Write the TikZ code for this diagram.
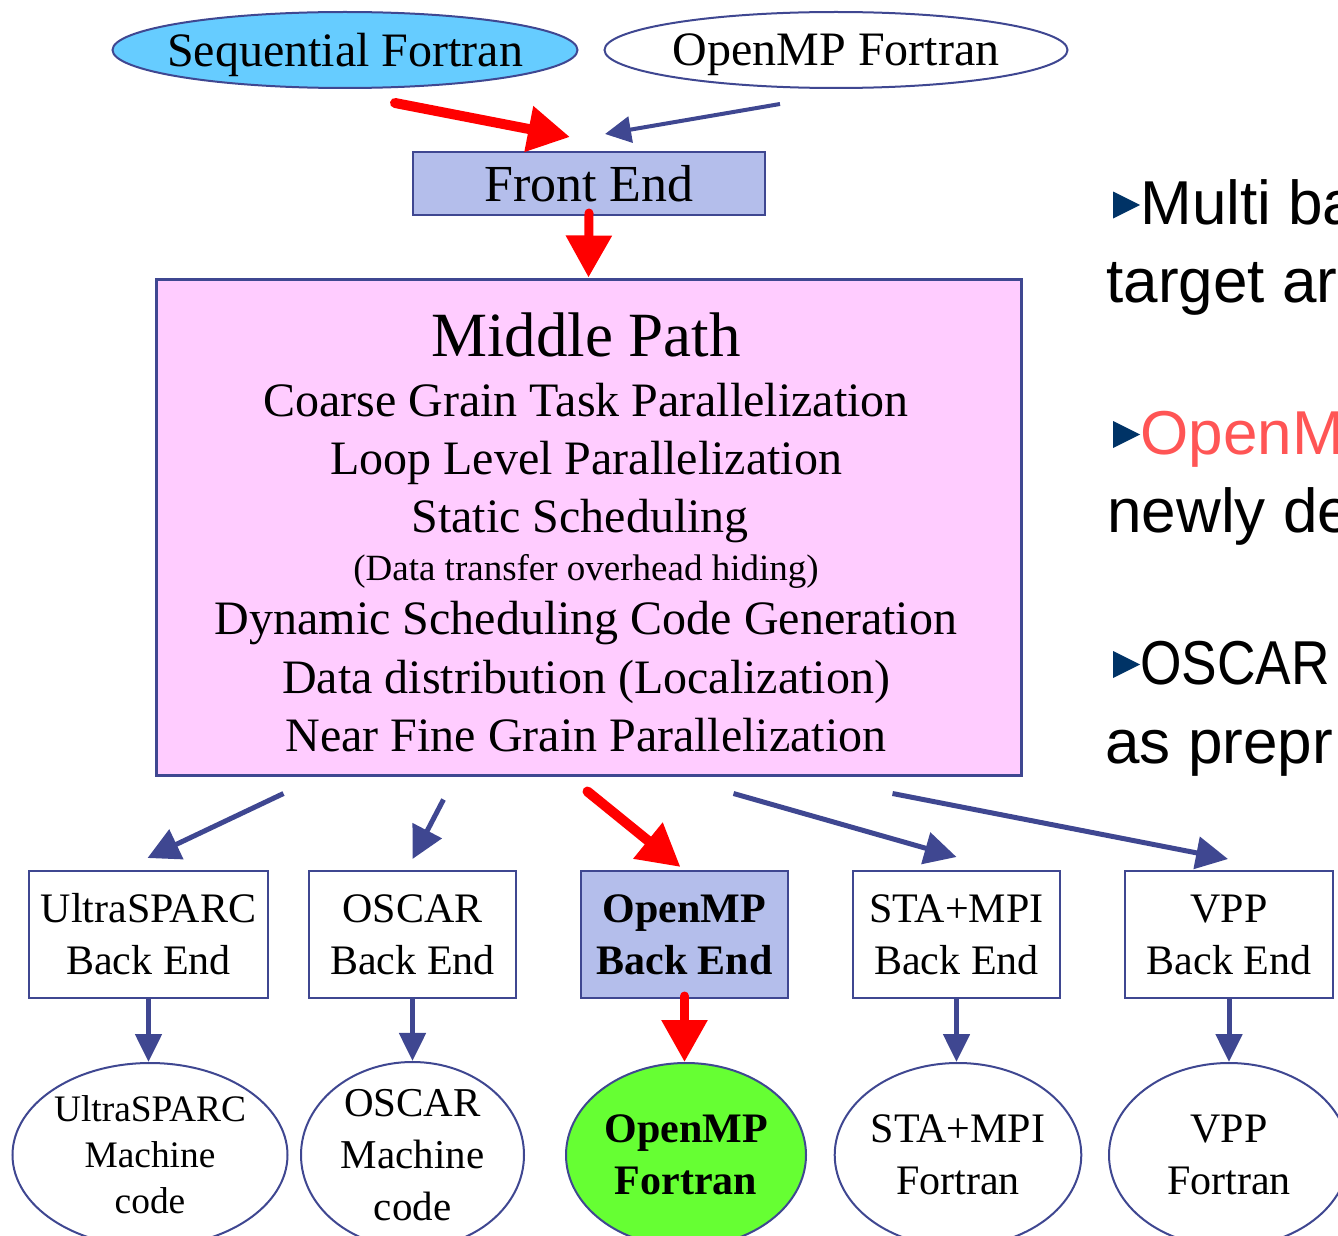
\documentclass[tikz,border=0pt]{standalone}
\usepackage{fontspec}
\setmainfont{Liberation Serif}
\newfontfamily\gothic{Liberation Sans}
\usetikzlibrary{arrows.meta,shapes.geometric,calc}

\definecolor{edgeblue}{HTML}{3F4791}
\definecolor{seqblue}{HTML}{66CCFF}
\definecolor{feblue}{HTML}{B4BEEB}
\definecolor{midpink}{HTML}{FFCCFF}
\definecolor{ompgreen}{HTML}{66FF33}
\definecolor{bulnavy}{HTML}{003366}
\definecolor{openred}{HTML}{FF5555}

\begin{document}
\begin{tikzpicture}[x=0.5pt,y=-0.5pt,
  box/.style={draw=edgeblue,line width=1pt,fill=white,align=center,inner sep=0pt,
    minimum height=63.5pt,font=\fontsize{21pt}{26pt}\selectfont},
  oval/.style={ellipse,draw=edgeblue,line width=1pt,fill=white,align=center,inner sep=0pt,
    minimum height=92pt,font=\fontsize{21pt}{26pt}\selectfont},
  topoval/.style={oval,inner xsep=-10pt,minimum height=38pt,text depth=0pt,
    font=\fontsize{24pt}{29pt}\selectfont},
  midline/.style={anchor=base,inner sep=0pt,font=\fontsize{24pt}{29pt}\selectfont},
  rtext/.style={anchor=base west,inner sep=0pt,font=\gothic\fontsize{31pt}{38pt}\selectfont},
  bluearr/.style={draw=edgeblue,line width=2.5pt,-{Triangle[length=16pt,width=16pt]}},
  redarr/.style={draw=red,line width=5pt,line cap=round,-{Triangle[length=21pt,width=22pt]}},
]
\useasboundingbox (0,0) rectangle (1338,1236);
\clip (0,0) rectangle (1338,1236);

% sources
\node[topoval,fill=seqblue,minimum width=232.5pt] (seqf) at (345,50) {Sequential Fortran};
\node[topoval,minimum width=231.5pt] (ompf) at (836,50) {OpenMP Fortran};
\node[box,fill=feblue,minimum width=176pt,minimum height=31.5pt,text depth=0pt,
  font=\fontsize{26pt}{31pt}\selectfont] (fe) at (589,183.5) {Front End};

% middle path
\node[draw=edgeblue,line width=1.5pt,fill=midpink,minimum width=432.5pt,minimum height=248pt,inner sep=0pt]
  (mid) at (588.5,527) {};
\node[midline,font=\fontsize{31.5pt}{36pt}\selectfont] (mtitle) at (586,356) {Middle Path};
\node[midline] (m1) at (586,416) {Coarse Grain Task Parallelization};
\node[midline] (m2) at (586,474) {Loop Level Parallelization};
\node[midline] (m3) at (580,532) {Static Scheduling};
\node[midline,font=\fontsize{18.5pt}{22pt}\selectfont] (m4) at (586,580) {(Data transfer overhead hiding)};
\node[midline] (m5) at (586,634) {Dynamic Scheduling Code Generation};
\node[midline] (m6) at (586,693) {Data distribution (Localization)};
\node[midline] (m7) at (586,751) {Near Fine Grain Parallelization};

% back ends
\node[box,minimum width=119.5pt] (beus) at (148.5,934.5) {UltraSPARC\\Back End};
\node[box,minimum width=103.5pt] (beos) at (412.5,934.5) {OSCAR\\Back End};
\node[box,fill=feblue,minimum width=103.5pt,font=\fontsize{21pt}{26pt}\selectfont\bfseries]
  (beomp) at (684.5,934.5) {OpenMP\\Back End};
\node[box,minimum width=103.5pt] (besta) at (956.5,934.5) {STA+MPI\\Back End};
\node[box,minimum width=104pt] (bevpp) at (1229,934.5) {VPP\\Back End};

% outputs
\node[oval,minimum width=137.5pt,font=\fontsize{18.7pt}{23pt}\selectfont]
  (ous) at (150,1155) {UltraSPARC\\Machine\\code};
\node[oval,minimum width=111.5pt,font=\fontsize{20.5pt}{26pt}\selectfont]
  (oos) at (412.5,1155) {OSCAR\\Machine\\code};
\node[oval,fill=ompgreen,minimum width=120pt,font=\fontsize{21pt}{26pt}\selectfont\bfseries]
  (oomp) at (686,1155) {OpenMP\\Fortran};
\node[oval,minimum width=120pt] (osta) at (958,1155) {STA+MPI\\Fortran};
\node[oval,minimum width=120pt] (ovpp) at (1229,1155) {VPP\\Fortran};

% arrows
\draw[redarr] ($(seqf.south)+(50,14)$) -- ($(fe.north)+(-19,-14)$);
\draw[bluearr,line width=2pt,-{Triangle[length=13pt,width=13pt]}]
  ($(ompf.south)+(-56,15)$) -- ($(fe.north)+(16,-17)$);
\draw[redarr,line width=4.5pt] ($(fe.south)+(0,-3)$) -- (mid.north);

\draw[bluearr] ($(mid.south west)+(129,17)$) -- ($(beus.north)+(-1,-12)$);
\draw[bluearr] ($(mid.south west)+(289,23)$) -- ($(beos.north)+(0,-11)$);
\draw[redarr] ($(mid.south)+(-1,15)$) -- ($(beomp.north)+(-4,-3)$);
\draw[bluearr] ($(mid.south)+(145,17)$) -- ($(besta.north)+(0,-13)$);
\draw[bluearr] ($(mid.south)+(304,17)$) -- ($(bevpp.north)+(-1,-11)$);

\draw[bluearr,-{Triangle[length=14pt,width=13pt]}] (beus.south) -- (beus.south |- ous.north);
\draw[bluearr,-{Triangle[length=14pt,width=13pt]}] (beos.south) -- (beos.south |- oos.north);
\draw[redarr,line width=4.5pt] ($(beomp.south)+(0,-3)$) -- (beomp.south |- oomp.north);
\draw[bluearr,-{Triangle[length=14pt,width=13pt]}] (besta.south) -- (besta.south |- osta.north);
\draw[bluearr,-{Triangle[length=14pt,width=13pt]}] (bevpp.south) -- (bevpp.south |- ovpp.north);

% side notes
\foreach \y in {205,434.5,664.5}
  \fill[bulnavy] (1113,\y-13.5) -- (1140,\y) -- (1113,\y+13.5) -- cycle;
\node[rtext] (r1) at (1140,224) {Multi ba};
\node[rtext] (r2) at (1106,302) {target ar};
\node[rtext,text=openred] (r3) at (1140,454) {OpenM};
\node[rtext] (r4) at (1107,532) {newly de};
\node[rtext] (r5) at (1140,684) {\scalebox{0.86}[1]{OSCAR}};
\node[rtext] (r6) at (1105,763) {as prepr};
\end{tikzpicture}
\end{document}
